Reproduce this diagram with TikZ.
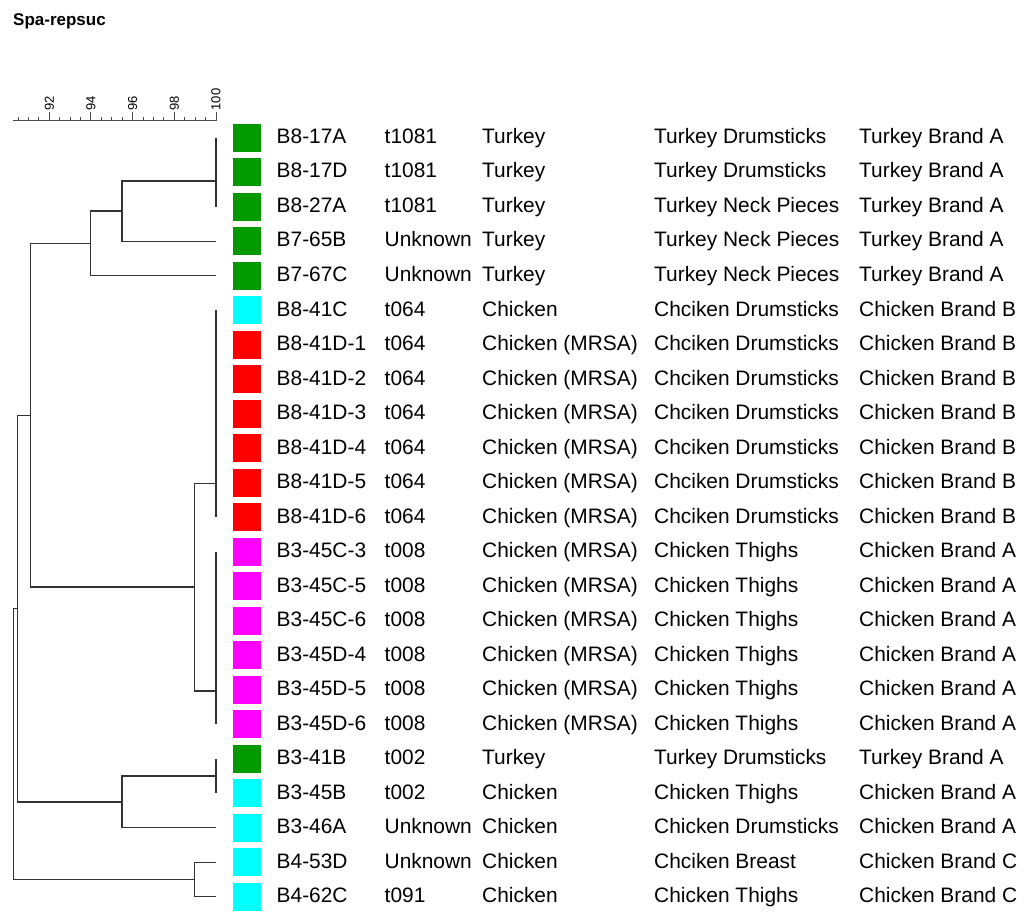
\documentclass[tikz,border=0pt]{standalone}
\usepackage{fontspec}
\setmainfont{Liberation Sans}
\definecolor{strGreen}{RGB}{0,153,0}
\definecolor{strCyan}{RGB}{0,255,255}
\definecolor{strRed}{RGB}{255,0,0}
\definecolor{strMagenta}{RGB}{255,0,255}
% similarity (percent) -> x position
\newcommand{\pc}[1]{216-(100-#1)*20.84}
\tikzset{
 branch/.style={line width=1.3pt,black!80},
 scalebar/.style={line width=1pt,black!70},
 colbox/.style={fill=#1,draw=none,inner sep=0pt,minimum width=28pt,minimum height=27.8pt},
 cell/.style={anchor=base west,inner sep=0pt,font=\fontsize{20.9}{24}\selectfont},
 ticklabel/.style={rotate=90,anchor=west,inner sep=0pt,font=\fontsize{13}{15}\selectfont},
}

\begin{document}
\begin{tikzpicture}[x=1pt,y=-1pt]
 \useasboundingbox (0,0) rectangle (1024,917);
 \node[anchor=base west,inner sep=0pt,font=\bfseries\fontsize{17}{20}\selectfont] (title) at (13,25.5) {Spa-repsuc};
 % scale
 \draw[scalebar] ({\pc{90.27}},120.7) -- ({\pc{100}},120.7);
 \foreach \v in {90.5,91.0,...,100.0}
  \draw[scalebar] ({\pc{\v}},120.7) -- ++(0,-4);
 \foreach \v in {92,94,...,100}{
  \draw[scalebar] ({\pc{\v}},120.7) -- ++(0,-9);
  \node[ticklabel] (lab\v) at ({\pc{\v}},110.5) {\v};
 }
 % strains
 \foreach \i/\iso/\spa/\host/\prod/\brand/\col in {
  1/B8-17A/t1081/Turkey/Turkey Drumsticks/Turkey Brand A/strGreen,
  2/B8-17D/t1081/Turkey/Turkey Drumsticks/Turkey Brand A/strGreen,
  3/B8-27A/t1081/Turkey/Turkey Neck Pieces/Turkey Brand A/strGreen,
  4/B7-65B/Unknown/Turkey/Turkey Neck Pieces/Turkey Brand A/strGreen,
  5/B7-67C/Unknown/Turkey/Turkey Neck Pieces/Turkey Brand A/strGreen,
  6/B8-41C/t064/Chicken/Chciken Drumsticks/Chicken Brand B/strCyan,
  7/B8-41D-1/t064/Chicken (MRSA)/Chciken Drumsticks/Chicken Brand B/strRed,
  8/B8-41D-2/t064/Chicken (MRSA)/Chciken Drumsticks/Chicken Brand B/strRed,
  9/B8-41D-3/t064/Chicken (MRSA)/Chciken Drumsticks/Chicken Brand B/strRed,
  10/B8-41D-4/t064/Chicken (MRSA)/Chciken Drumsticks/Chicken Brand B/strRed,
  11/B8-41D-5/t064/Chicken (MRSA)/Chciken Drumsticks/Chicken Brand B/strRed,
  12/B8-41D-6/t064/Chicken (MRSA)/Chciken Drumsticks/Chicken Brand B/strRed,
  13/B3-45C-3/t008/Chicken (MRSA)/Chicken Thighs/Chicken Brand A/strMagenta,
  14/B3-45C-5/t008/Chicken (MRSA)/Chicken Thighs/Chicken Brand A/strMagenta,
  15/B3-45C-6/t008/Chicken (MRSA)/Chicken Thighs/Chicken Brand A/strMagenta,
  16/B3-45D-4/t008/Chicken (MRSA)/Chicken Thighs/Chicken Brand A/strMagenta,
  17/B3-45D-5/t008/Chicken (MRSA)/Chicken Thighs/Chicken Brand A/strMagenta,
  18/B3-45D-6/t008/Chicken (MRSA)/Chicken Thighs/Chicken Brand A/strMagenta,
  19/B3-41B/t002/Turkey/Turkey Drumsticks/Turkey Brand A/strGreen,
  20/B3-45B/t002/Chicken/Chicken Thighs/Chicken Brand A/strCyan,
  21/B3-46A/Unknown/Chicken/Chicken Drumsticks/Chicken Brand A/strCyan,
  22/B4-53D/Unknown/Chicken/Chciken Breast/Chicken Brand C/strCyan,
  23/B4-62C/t091/Chicken/Chicken Thighs/Chicken Brand C/strCyan}{
  \pgfmathsetmacro\y{137.8+34.5*(\i-1)}
  \coordinate (leaf\i) at (216,\y);
  \node[colbox=\col] (box\i) at (246.7,\y) {};
  \node[cell] (iso\i) at (276.5,\y+5.7) {\iso};
  \node[cell] (spa\i) at (384.5,\y+5.7) {\spa};
  \node[cell] (host\i) at (482,\y+5.7) {\host};
  \node[cell] (prod\i) at (654,\y+5.7) {\prod};
  \node[cell] (brand\i) at (859,\y+5.7) {\brand};
 }
 % dendrogram
 \coordinate (kA) at (216,180.9);
 \coordinate (kB) at (216,483.3);
 \coordinate (kC) at (216,690.9);
 \coordinate (kD) at (216,776.05);
 \coordinate (k1) at ({\pc{95.49}},211.1);
 \coordinate (k2) at ({\pc{93.99}},243.45);
 \coordinate (k3) at ({\pc{98.98}},587.1);
 \coordinate (k4) at ({\pc{91.11}},415.3);
 \coordinate (k5) at ({\pc{95.49}},801.9);
 \coordinate (k6) at ({\pc{90.47}},608.6);
 \coordinate (k7) at ({\pc{98.98}},879.55);
 \coordinate (k8) at ({\pc{90.27}},744.1);
 \draw[branch] (leaf1) -- (leaf3);
 \draw[branch] (leaf6) -- (leaf12);
 \draw[branch] (leaf13) -- (leaf18);
 \draw[branch] (leaf19) -- (leaf20);
 \draw[branch] (kA) -| (k1) |- (leaf4);
 \draw[branch] (k1) -| (k2) |- (leaf5);
 \draw[branch] (kB) -| (k3) |- (kC);
 \draw[branch] (k2) -| (k4) |- (k3);
 \draw[branch] (kD) -| (k5) |- (leaf21);
 \draw[branch] (k4) -| (k6) |- (k5);
 \draw[branch] (leaf22) -| (k7) |- (leaf23);
 \draw[branch] (k6) -| (k8) |- (k7);
\end{tikzpicture}
\end{document}
